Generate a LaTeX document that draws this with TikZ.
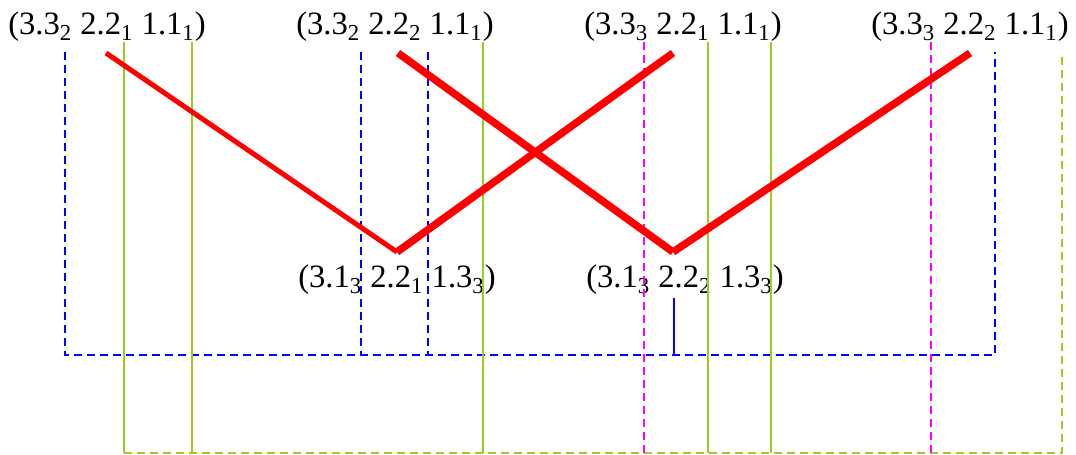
\documentclass[tikz,border=0pt]{standalone}
\usepackage{fontspec}
\setmainfont{Liberation Serif}
\usetikzlibrary{positioning}
\definecolor{lime}{RGB}{154,205,30}
\definecolor{pink}{RGB}{255,0,255}

\begin{document}
\begin{tikzpicture}[
    x=0.5pt, y=-0.5pt,
    tuple/.style={inner sep=0pt, font=\fontsize{16.3}{19}\selectfont},
    edge/.style={draw=red, line width=3.75pt},
    thinedge/.style={draw=red, line width=2.5pt},
    bluebus/.style={draw=blue, line width=0.75pt, dash pattern=on 4pt off 2.5pt},
    limebus/.style={draw=lime, line width=0.8pt},
    pinkbus/.style={draw=pink, line width=0.6pt, dash pattern=on 4pt off 2.5pt}
]
    \useasboundingbox (0,0) rectangle (1076,455);

    \node[tuple] (t1) at (107,27) {(3.3\textsubscript{2} 2.2\textsubscript{1} 1.1\textsubscript{1})};
    \node[tuple] (t2) at (395,27) {(3.3\textsubscript{2} 2.2\textsubscript{2} 1.1\textsubscript{1})};
    \node[tuple] (t3) at (683,27) {(3.3\textsubscript{3} 2.2\textsubscript{1} 1.1\textsubscript{1})};
    \node[tuple] (t4) at (970,27) {(3.3\textsubscript{3} 2.2\textsubscript{2} 1.1\textsubscript{1})};
    \node[tuple] (b1) at (397,280) {(3.1\textsubscript{3} 2.2\textsubscript{1} 1.3\textsubscript{3})};
    \node[tuple] (b2) at (685,280) {(3.1\textsubscript{3} 2.2\textsubscript{2} 1.3\textsubscript{3})};

    % ends of the red edges
    \coordinate (e1) at (106,53);
    \coordinate (e2) at (398,53);
    \coordinate (e3) at (673,53);
    \coordinate (e4) at (970,53);
    \coordinate (v1) at (397,252);
    \coordinate (v2) at (673,252);

    % blue bus
    \draw[bluebus] (65,52) -- (65,355) -- (995,355) -- (995,52);
    \draw[bluebus] (361,52) -- (361,355);
    \draw[bluebus] (428,52) -- (428,355);
    \draw[draw=blue, line width=0.75pt] (674,298) -- (674,355);

    % green bus
    \foreach \x in {124,192,483,708,771}
        \draw[limebus] (\x,42) -- (\x,453);
    \draw[limebus, dash pattern=on 4pt off 2.5pt] (124,453) -- (1062,453) -- (1062,55);

    % magenta
    \foreach \x in {644,931}
        \draw[pinkbus] (\x,42) -- (\x,453);

    \draw[thinedge] (e1) -- (v1);
    \draw[edge] (v1) -- (e3);
    \draw[edge] (e2) -- (v2);
    \draw[edge] (v2) -- (e4);
\end{tikzpicture}
\end{document}
